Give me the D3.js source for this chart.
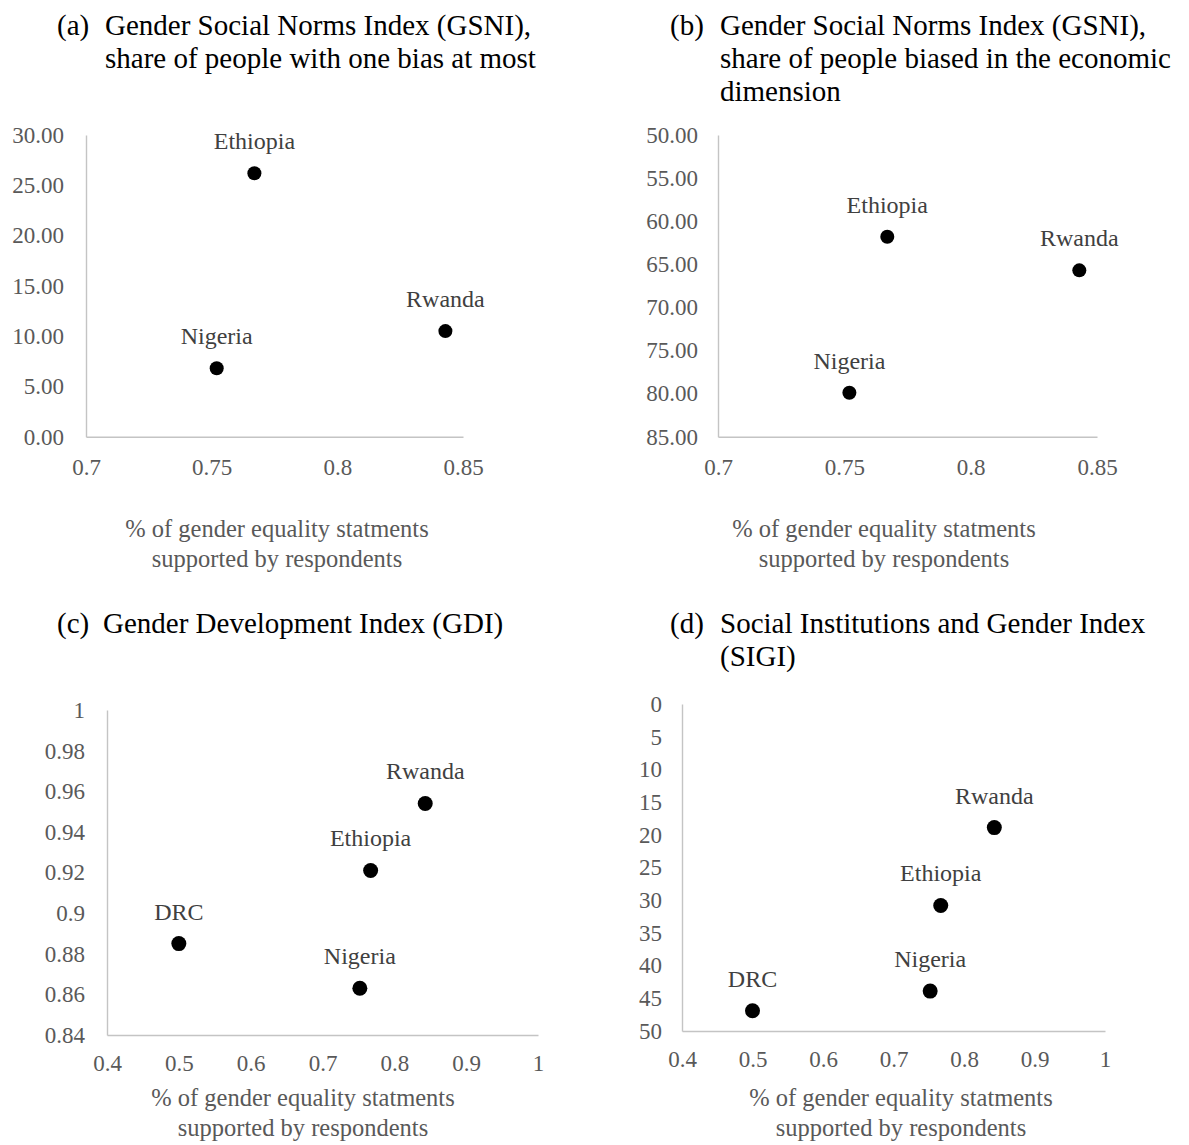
<!DOCTYPE html>
<html>
<head>
<meta charset="utf-8">
<script src="https://cdn.jsdelivr.net/npm/d3@7/dist/d3.min.js"></script>
<style>
  html, body { margin: 0; padding: 0; background: #fff; }
  svg { display: block; font-family: "Liberation Serif", "Times New Roman", serif; }
  .domain { stroke: #c4c4c4; stroke-width: 1.4px; }
  .tick text { fill: #595959; font-size: 23px; font-family: "Liberation Serif", "Times New Roman", serif; }
  .ptitle { fill: #000; font-size: 29px; }
  .xtitle { fill: #595959; font-size: 24.5px; text-anchor: middle; }
  .dlabel { fill: #404040; font-size: 24px; text-anchor: middle; }
</style>
</head>
<body>
<svg id="chart" width="1189" height="1145"></svg>
<script>
// Countries shown in the upper pair of panels (GSNI)
const countriesTop = ["Ethiopia", "Nigeria", "Rwanda"];
// Share of gender equality statements supported by respondents
const supportTop = [0.767, 0.752, 0.843];
// GSNI: share of people with one bias at most (%)
const gsniOneBias = [26.2, 6.8, 10.5];
// GSNI: share of people biased in the economic dimension (%)
const gsniEconomic = [61.8, 79.9, 65.7];

// Countries shown in the lower pair of panels
const countriesBottom = ["DRC", "Ethiopia", "Nigeria", "Rwanda"];
const supportBottom = [0.500, 0.767, 0.752, 0.843];
// Gender Development Index
const gdiValues = [0.885, 0.921, 0.863, 0.954];
// Social Institutions and Gender Index
const sigiValues = [46.9, 30.8, 43.9, 18.9];

// Tick values
const xTicksTop = [0.7, 0.75, 0.8, 0.85];
const xTicksBottom = [0.4, 0.5, 0.6, 0.7, 0.8, 0.9, 1];
const yTicksA = [0, 5, 10, 15, 20, 25, 30];
const yTicksB = [50, 55, 60, 65, 70, 75, 80, 85];
const yTicksC = [0.84, 0.86, 0.88, 0.9, 0.92, 0.94, 0.96, 0.98, 1];
const yTicksD = [0, 5, 10, 15, 20, 25, 30, 35, 40, 45, 50];

const xTitle = ["% of gender equality statments", "supported by respondents"];

const fmt2 = d3.format(".2f");
const fmtGeneral = d => String(+d.toFixed(2));

const panels = [
  {
    tag: "(a)", title: ["Gender Social Norms Index (GSNI),", "share of people with one bias at most"],
    tagX: 57, textX: 105, titleY: 35,
    left: 86, right: 463, top: 135, bottom: 436.7,
    xDomain: [0.7, 0.85], xTicks: xTicksTop, xFmt: fmtGeneral,
    yDomain: [0, 30], reversed: false, yTicks: yTicksA, yFmt: fmt2, yPad: 22, xPad: 22,
    names: countriesTop, xs: supportTop, ys: gsniOneBias, r: 7,
    xTitleX: 277, xTitleY: 537
  },
  {
    tag: "(b)", title: ["Gender Social Norms Index (GSNI),", "share of people biased in the economic", "dimension"],
    tagX: 670, textX: 720, titleY: 35,
    left: 718, right: 1097, top: 135, bottom: 436.7,
    xDomain: [0.7, 0.85], xTicks: xTicksTop, xFmt: fmtGeneral,
    yDomain: [50, 85], reversed: true, yTicks: yTicksB, yFmt: fmt2, yPad: 20, xPad: 22,
    names: countriesTop, xs: supportTop, ys: gsniEconomic, r: 7,
    xTitleX: 884, xTitleY: 537
  },
  {
    tag: "(c)", title: ["Gender Development Index (GDI)"],
    tagX: 57, textX: 103, titleY: 633,
    left: 107, right: 538, top: 710, bottom: 1035,
    xDomain: [0.4, 1], xTicks: xTicksBottom, xFmt: fmtGeneral,
    yDomain: [0.84, 1], reversed: false, yTicks: yTicksC, yFmt: fmtGeneral, yPad: 22, xPad: 20,
    names: countriesBottom, xs: supportBottom, ys: gdiValues, r: 7.5,
    xTitleX: 303, xTitleY: 1106
  },
  {
    tag: "(d)", title: ["Social Institutions and Gender Index", "(SIGI)"],
    tagX: 670, textX: 720, titleY: 633,
    left: 682, right: 1105, top: 704, bottom: 1031,
    xDomain: [0.4, 1], xTicks: xTicksBottom, xFmt: fmtGeneral,
    yDomain: [0, 50], reversed: true, yTicks: yTicksD, yFmt: fmtGeneral, yPad: 20, xPad: 20,
    names: countriesBottom, xs: supportBottom, ys: sigiValues, r: 7.5,
    xTitleX: 901, xTitleY: 1106
  }
];

const svg = d3.select("#chart");

panels.forEach(p => {
  const g = svg.append("g");

  // Panel title: letter tag plus wrapped heading
  g.append("text").attr("class", "ptitle")
    .attr("x", p.tagX).attr("y", p.titleY).text(p.tag);
  p.title.forEach((line, k) => {
    g.append("text").attr("class", "ptitle")
      .attr("x", p.textX).attr("y", p.titleY + k * 33).text(line);
  });

  const x = d3.scaleLinear().domain(p.xDomain).range([p.left, p.right]);
  // Inverted panels put the smallest value at the top
  const y = d3.scaleLinear().domain(p.yDomain)
    .range(p.reversed ? [p.top, p.bottom] : [p.bottom, p.top]);

  const gx = g.append("g")
    .attr("transform", `translate(0,${p.bottom})`)
    .call(d3.axisBottom(x).tickValues(p.xTicks).tickFormat(p.xFmt)
      .tickSize(0).tickSizeOuter(0).tickPadding(p.xPad));

  const gy = g.append("g")
    .attr("transform", `translate(${p.left},0)`)
    .call(d3.axisLeft(y).tickValues(p.yTicks).tickFormat(p.yFmt)
      .tickSize(0).tickSizeOuter(0).tickPadding(p.yPad));

  [gx, gy].forEach(a => a.attr("font-family", null).attr("font-size", null));

  // Horizontal axis title
  xTitle.forEach((line, k) => {
    g.append("text").attr("class", "xtitle")
      .attr("x", p.xTitleX).attr("y", p.xTitleY + k * 30).text(line);
  });

  // Country points and labels
  const pts = p.names.map((n, j) => ({ name: n, xv: p.xs[j], yv: p.ys[j] }));
  g.selectAll("circle.pt").data(pts).join("circle")
    .attr("class", "pt")
    .attr("cx", d => x(d.xv)).attr("cy", d => y(d.yv))
    .attr("r", p.r).attr("fill", "#000");
  g.selectAll("text.dlabel").data(pts).join("text")
    .attr("class", "dlabel")
    .attr("x", d => x(d.xv)).attr("y", d => y(d.yv) - 24)
    .text(d => d.name);
});
</script>
</body>
</html>
